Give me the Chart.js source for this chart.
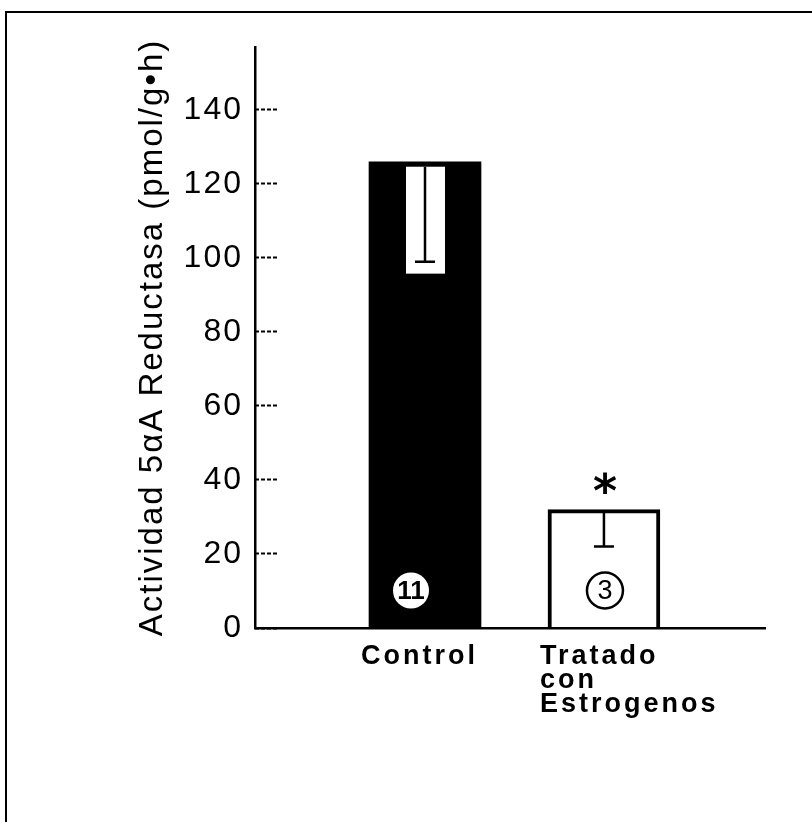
<!DOCTYPE html>
<html>
<head>
<meta charset="utf-8">
<script src="https://cdn.jsdelivr.net/npm/chart.js@4.4.1/dist/chart.umd.min.js"></script>
<style>
  html, body { margin: 0; padding: 0; background: #fff; overflow: hidden; }
  #wrap { position: relative; width: 812px; height: 822px; }
  #frame { position: absolute; left: 5px; top: 11px; width: 830px; height: 840px;
           border-left: 2.5px solid #000; border-top: 2.5px solid #000; pointer-events: none; }
</style>
</head>
<body>
<div id="wrap">
  <canvas id="chart"></canvas>
  <div id="frame"></div>
</div>
<script>
// Datos
const categorias = [['Control'], ['Tratado', 'con', 'Estrogenos']];
const medias = [126, 32];
const errores = [27, 10];
const nAnimales = [11, 3];
const significancia = ['', '*'];
const ticksY = [0, 20, 40, 60, 80, 100, 120, 140];

const rellenos = ['#000000', '#ffffff'];
const bordes = [0, 4];

// Dibuja barras de error, numero de casos y asterisco
const anotaciones = {
    id: 'anotaciones',
    beforeDraw(chart) {
        chart.ctx.letterSpacing = '2px';
    },
    afterDatasetsDraw(chart) {
        const ctx = chart.ctx;
        const y = chart.scales.y;
        const meta = chart.getDatasetMeta(0);
        ctx.save();
        ctx.letterSpacing = '0px';
        meta.data.forEach((bar, i) => {
            const top = y.getPixelForValue(medias[i]);
            const low = y.getPixelForValue(medias[i] - errores[i]);
            // canal blanco dentro de la barra oscura
            if (rellenos[i] === '#000000') {
                ctx.fillStyle = '#fff';
                ctx.fillRect(bar.x - 19, top + 5, 39, low - top + 7);
            }
            ctx.strokeStyle = '#000';
            ctx.lineWidth = 2.5;
            ctx.beginPath();
            ctx.moveTo(bar.x, top + (i === 0 ? 5 : 2));
            ctx.lineTo(bar.x, low);
            ctx.moveTo(bar.x - 10, low);
            ctx.lineTo(bar.x + 10, low);
            ctx.stroke();

            // circulo con n
            const cx = bar.x + (i === 0 ? -14 : 1);
            const cy = bar.base - 37;
            ctx.beginPath();
            ctx.arc(cx, cy, 18, 0, Math.PI * 2);
            ctx.fillStyle = '#fff';
            ctx.fill();
            if (rellenos[i] !== '#000000') {
                ctx.lineWidth = 2.5;
                ctx.stroke();
            }
            ctx.fillStyle = '#000';
            ctx.textAlign = 'center';
            ctx.textBaseline = 'middle';
            ctx.font = (i === 0 ? 'bold 26px' : '27px') + ' "Liberation Sans"';
            ctx.fillText(String(nAnimales[i]), cx, cy + 1);

            if (significancia[i]) {
                ctx.font = 'bold 46px "DejaVu Sans"';
                ctx.textBaseline = 'alphabetic';
                ctx.fillText(significancia[i], bar.x + 1, top - 3);
            }
        });
        ctx.restore();
        ctx.letterSpacing = '3px';
    },
    afterDraw(chart) {
        chart.ctx.letterSpacing = '0px';
    }
};

new Chart(document.getElementById('chart'), {
    type: 'bar',
    data: {
        datasets: [{
            data: medias.map((v, i) => ({ x: i, y: v })),
            backgroundColor: rellenos,
            borderColor: '#000',
            borderWidth: bordes,
            borderSkipped: 'bottom',
            barThickness: 112
        }]
    },
    plugins: [anotaciones],
    options: {
        responsive: true,
        maintainAspectRatio: false,
        animation: false,
        layout: { padding: { left: 130, right: 47, top: 47, bottom: 0 } },
        plugins: { legend: { display: false }, tooltip: { enabled: false } },
        scales: {
            x: {
                type: 'linear',
                min: -0.95,
                max: 1.9,
                offset: false,
                afterBuildTicks: (scale) => { scale.ticks = categorias.map((c, i) => ({ value: i })); },
                afterFit: (scale) => { scale.height = 194; scale.paddingLeft = 0; scale.paddingRight = 0; },
                grid: { display: false, drawTicks: false, offset: false },
                border: { display: true, color: '#000', width: 2.5, z: 1 },
                ticks: {
                    z: 1,
                    autoSkip: false,
                    maxRotation: 0,
                    align: 'start',
                    labelOffset: -64,
                    padding: 17,
                    color: '#000',
                    font: { family: '"Liberation Sans"', size: 27, weight: 'bold', lineHeight: 0.88 },
                    callback: (v) => categorias[v]
                }
            },
            y: {
                min: 0,
                max: 157,
                afterBuildTicks: (scale) => { scale.ticks = ticksY.map(v => ({ value: v })); },
                afterFit: (scale) => { scale.width = 125; scale.paddingTop = 0; scale.paddingBottom = 0; },
                grid: {
                    drawOnChartArea: false,
                    tickLength: -22,
                    tickWidth: 2,
                    tickColor: '#000',
                    tickBorderDash: [4, 2]
                },
                border: { display: true, color: '#000', width: 2.5, z: 1 },
                ticks: {
                    autoSkip: false,
                    padding: 34,
                    color: '#000',
                    font: { family: '"Liberation Sans"', size: 32 }
                },
                title: {
                    display: true,
                    text: 'Actividad 5αA Reductasa (pmol/g•h)',
                    color: '#000',
                    padding: { top: 3, bottom: 0 },
                    font: { family: '"Liberation Sans"', size: 33 }
                }
            }
        }
    }
});
</script>
</body>
</html>
